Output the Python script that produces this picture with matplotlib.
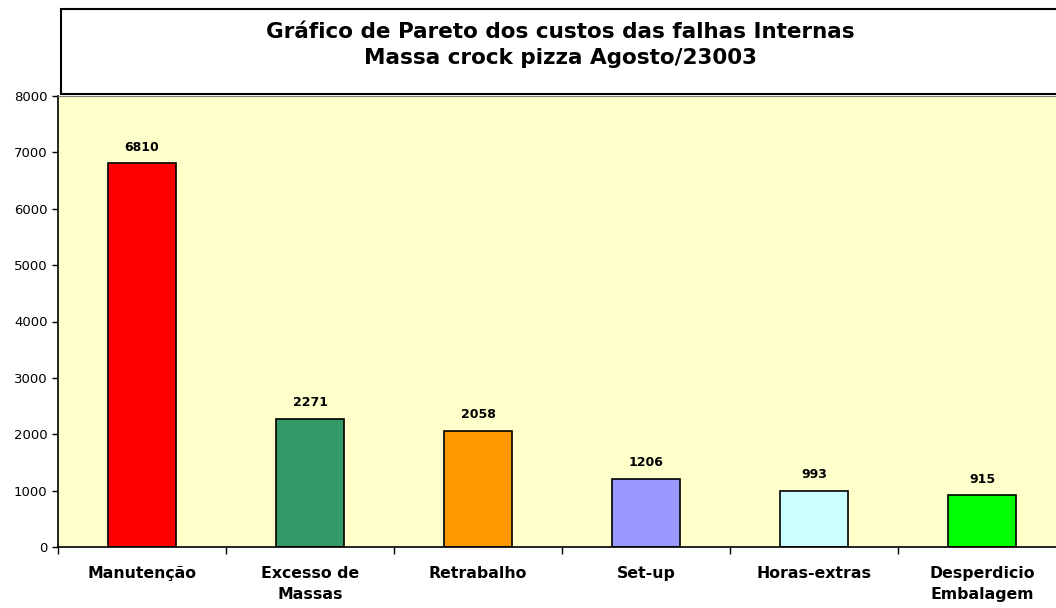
import matplotlib.pyplot as plt
import matplotlib.patches as mpatches

plt.rcParams['font.family'] = ['DejaVu Sans']

categorias = ["Manutenção", "Excesso de\nMassas", "Retrabalho", "Set-up", "Horas-extras", "Desperdicio\nEmbalagem"]
custos = [6810, 2271, 2058, 1206, 993, 915]
cores = ["#FF0000", "#339966", "#FF9900", "#9999FF", "#CCFFFF", "#00FF00"]
titulo = "Gráfico de Pareto dos custos das falhas Internas\nMassa crock pizza Agosto/23003"

fig = plt.figure(figsize=(10.56, 6.08), dpi=100)
ax = fig.add_axes([58/1056, 1-547/608, 1008/1056, 451/608])
ax.set_facecolor("#FFFFCC")

x = range(len(custos))
ax.bar(x, custos, width=0.41, color=cores, edgecolor="black", linewidth=1.2, zorder=2)
for i, v in enumerate(custos):
    ax.text(i, v + 170, str(v), ha="center", va="bottom", fontsize=9, fontweight="bold")

ax.set_xlim(-0.5, len(custos) - 0.5)
ax.set_ylim(0, 8000)
ax.set_yticks(range(0, 8001, 1000))
ax.tick_params(axis="y", labelsize=9.5, length=4, width=1)
ax.set_xticks([i + 0.5 for i in range(-1, len(custos))])
ax.set_xticklabels([])
ax.tick_params(axis="x", length=5, width=1)
ax.set_xticks(list(x), minor=True)
ax.set_xticklabels(categorias, minor=True, fontsize=11.3, fontweight="bold", linespacing=1.45)
ax.tick_params(axis="x", which="minor", length=0, pad=14)

ax.spines["right"].set_visible(False)
ax.spines["top"].set_color("#808080")
ax.spines["left"].set_linewidth(1.2)
ax.spines["bottom"].set_linewidth(1.2)

caixa = mpatches.Rectangle((61/1056, 1-94/608), 1.0, 85/608, transform=fig.transFigure,
                           facecolor="white", edgecolor="black", linewidth=1.5, clip_on=False)
fig.patches.append(caixa)
fig.text(560/1056, 1-45/608, titulo, ha="center", va="center", fontsize=15.5,
         fontweight="bold", linespacing=1.4)

fig.savefig("out.png", dpi=100)
